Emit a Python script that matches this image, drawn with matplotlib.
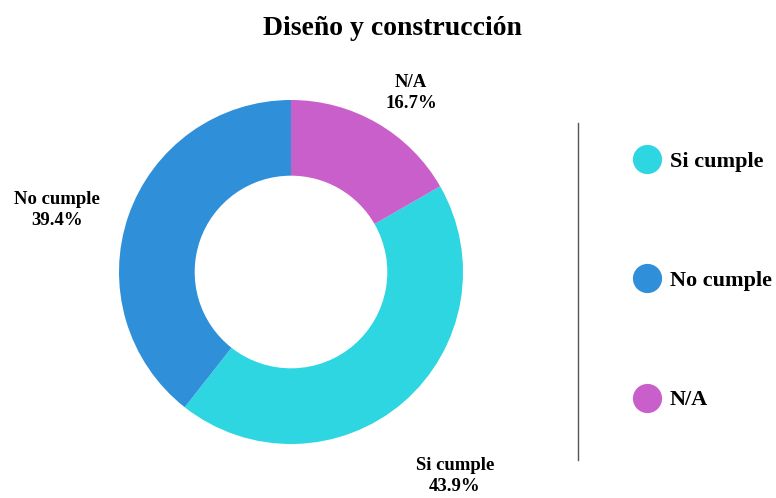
import matplotlib
matplotlib.use("Agg")
import matplotlib.pyplot as plt
from matplotlib.lines import Line2D

categories = ["Si cumple", "No cumple", "N/A"]
values = [43.9, 39.4, 16.7]
colors = ["#2dd6e1", "#2f8fd9", "#c95fcb"]
title = "Diseño y construcción"

plt.rcParams['font.family'] = ['Liberation Serif', 'DejaVu Serif']
plt.rcParams['font.weight'] = 'bold'

W, H = 776, 498
fig = plt.figure(figsize=(W / 100, H / 100), dpi=100)
ax = fig.add_axes([0, 0, 1, 1])

cx, cy, R = 291, H - 272, 172
start = 90 - 360 * values[2] / sum(values)
ax.pie(values, colors=colors, startangle=start, counterclock=False,
       center=(cx, cy), radius=R, wedgeprops=dict(width=R * 0.44, linewidth=0),
       frame=True)
ax.set_xlim(0, W)
ax.set_ylim(0, H)
ax.set_aspect('equal')
ax.axis('off')

label_pos = {"N/A": (411, H - 93), "No cumple": (57, H - 210), "Si cumple": (455, H - 476)}
for c, v in zip(categories, values):
    x, y = label_pos[c]
    ax.text(x, y, f"{c}\n{v:.1f}%", ha='center', va='center', fontsize=13.5,
            fontweight='bold', linespacing=1.3)

ax.text(392, H - 28, title, ha='center', va='center', fontsize=20, fontweight='bold')

# separator line
ax.plot([578, 578], [H - 123, H - 460], color='#555555', linewidth=1)

handles = [Line2D([], [], marker='o', linestyle='none', markersize=20,
                  markerfacecolor=col, markeredgecolor=col) for col in colors]
leg = ax.legend(handles, categories, loc='upper left', bbox_to_anchor=(629 / W, 1 - 151 / H),
                frameon=False, labelspacing=4.45, handletextpad=0.25, handlelength=1.6,
                borderaxespad=0, borderpad=0,
                prop=dict(family='Liberation Serif', weight='bold', size=16))

fig.savefig("out.png", dpi=100)
